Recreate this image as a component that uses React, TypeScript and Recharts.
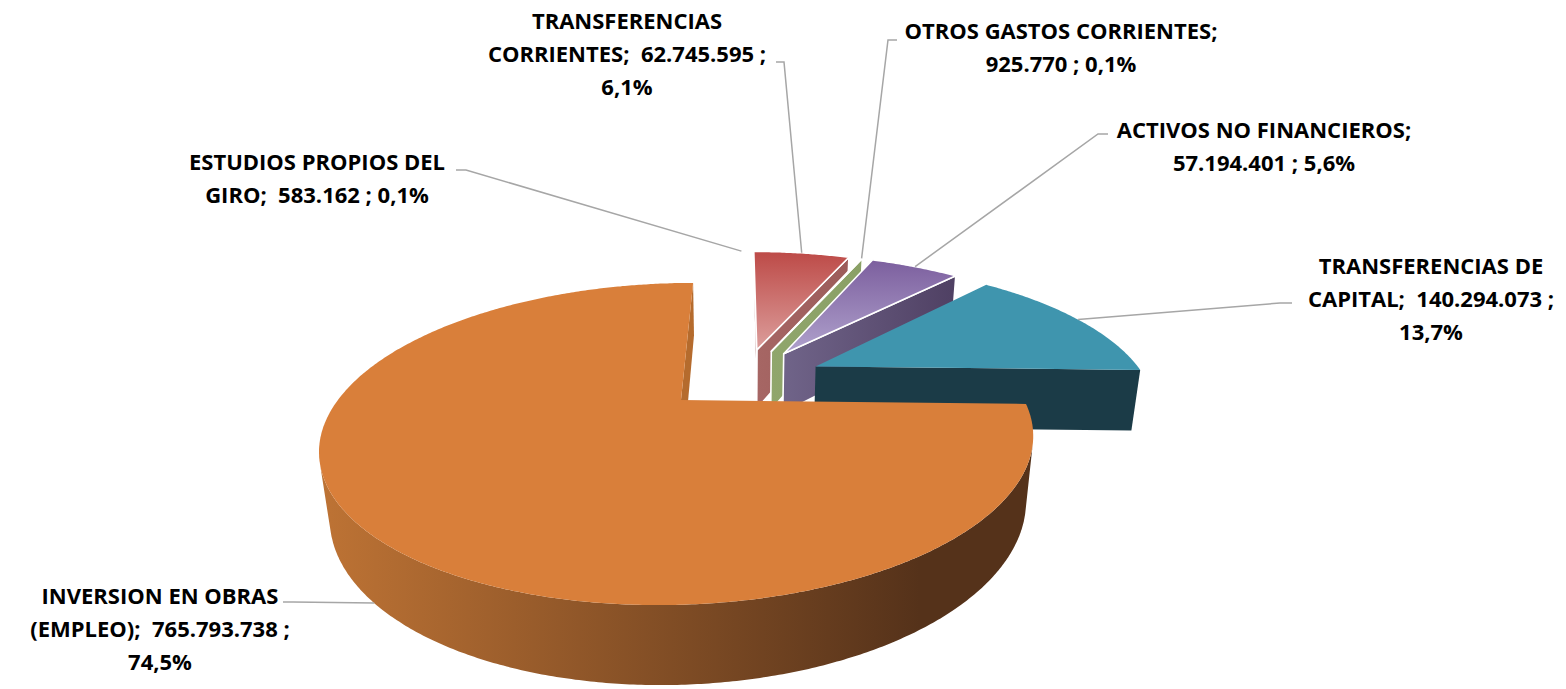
import { PieChart, Pie } from "recharts";

// data, in the order Excel stacks the slices (clockwise from 12 o'clock)
const NAMES = [
  "ESTUDIOS PROPIOS DEL GIRO",
  "TRANSFERENCIAS CORRIENTES",
  "OTROS GASTOS CORRIENTES",
  "ACTIVOS NO FINANCIEROS",
  "TRANSFERENCIAS DE CAPITAL",
  "INVERSION EN OBRAS (EMPLEO)",
];
const VALUES = [583162, 62745595, 925770, 57194401, 140294073, 765793738];

const data = NAMES.map((name, i) => ({ name, value: VALUES[i] }));
const TOTAL = VALUES.reduce((a, b) => a + b, 0);
const START = 90 + (360 * VALUES[0]) / TOTAL;

// 3d look: perspective camera tilted above the pie
const VIEW = { u: 0.262, sin: 0.4003, cos: 0.9164, wz: 0.1144, camY: -3.206, kx: 0.96 };
const THICK = 0.2;
const EXPLODE = 0.22;
const EXPLODE_X = 1.13;

type Pal = { top: string[]; cut: string[]; wall: string[]; stroke?: string };
const PALETTE: Pal[] = [
  { top: ["#4F81BD", "#4F81BD"], cut: ["#3C6494", "#3C6494"], wall: ["#3C6494", "#3C6494"], stroke: "#fff" },
  { top: ["#BD4A47", "#DC9E9C"], cut: ["#A66664", "#9C5C5A"], wall: ["#9C5C5A", "#9C5C5A"], stroke: "#fff" },
  { top: ["#76954A", "#7E9D50"], cut: ["#90A66C", "#8AA066"], wall: ["#8AA066", "#8AA066"], stroke: "#fff" },
  { top: ["#7C5F9E", "#B0A2CD"], cut: ["#706489", "#4F4063"], wall: ["#4E3E62", "#4E3E62"], stroke: "#fff" },
  { top: ["#3F95AE", "#3F95AE"], cut: ["#1B3B47", "#1B3B47"], wall: ["#1B3B47", "#1B3B47"] },
  { top: ["#D97F3A", "#D97F3A"], cut: ["#B56B2D", "#B56B2D"], wall: ["#BC7234", "#55321A"] },
];

// label layout: text centre x, first line centre y, wrap width (chars), elbow points
const LABELS = [
  { x: 317, y: 163, wrap: 21, elbow: [[456, 170], [466, 170]], z: 0 },
  { x: 627, y: 22, wrap: 25, elbow: [[776, 62], [784, 62]], z: 0 },
  { x: 1061, y: 32, wrap: 24, elbow: [[897, 40], [888, 40]], z: 0 },
  { x: 1264, y: 131, wrap: 23, elbow: [[1108, 134], [1098, 134]], z: 0 },
  { x: 1431, y: 267, wrap: 23, elbow: [[1292, 303], [1280, 303]], z: 0 },
  { x: 160, y: 597, wrap: 24, elbow: [[283, 602], [293, 602]], z: -THICK },
];
const LINE_H = 33;

const rad = (d: number) => (d * Math.PI) / 180;

function project(cx: number, cy: number, P: number, x: number, y: number, z: number) {
  const w = 1 + y * VIEW.u - z * VIEW.wz;
  return [cx + (P * VIEW.kx * x) / w, cy - (P * (y * VIEW.sin + z * VIEW.cos)) / w];
}

const fmtNum = (v: number) => v.toString().replace(/\B(?=(\d{3})+(?!\d))/g, ".");
const fmtPct = (v: number) => ((v / TOTAL) * 100).toFixed(1).replace(".", ",") + "%";

function wrapText(text: string, max: number) {
  const words = text.split(" ");
  const lines: string[] = [];
  let cur = "";
  let fresh = true;
  for (const w of words) {
    const next = fresh ? w : cur + " " + w;
    if (next.length > max && cur.trim() !== "") {
      lines.push(cur);
      cur = w;
      fresh = w === "";
    } else {
      cur = next;
      fresh = false;
    }
  }
  lines.push(cur);
  return lines;
}

const poly = (pts: number[][]) => "M" + pts.map((p) => p[0].toFixed(1) + "," + p[1].toFixed(1)).join("L") + "Z";

const apexOf = (midAngle: number) => [
  EXPLODE * EXPLODE_X * Math.cos(rad(midAngle)),
  EXPLODE * Math.sin(rad(midAngle)),
];

function Slice3D(props: any) {
  const { cx, cy, outerRadius: P, startAngle, endAngle, midAngle, payload } = props;
  const i = NAMES.indexOf(payload?.name ?? props.name);
  const pal = PALETTE[i] ?? PALETTE[0];
  const lo = Math.min(startAngle, endAngle);
  const hi = Math.max(startAngle, endAngle);
  const [ax, ay] = apexOf(midAngle);
  const rim = (deg: number, z: number) =>
    project(cx, cy, P, ax + Math.cos(rad(deg)), ay + Math.sin(rad(deg)), z);
  const apexTop = project(cx, cy, P, ax, ay, 0);
  const apexBot = project(cx, cy, P, ax, ay, -THICK);

  const steps = Math.max(2, Math.ceil((hi - lo) / 0.5));
  const angs: number[] = [];
  for (let k = 0; k <= steps; k++) angs.push(lo + ((hi - lo) * k) / steps);

  const top = [apexTop, ...angs.map((a) => rim(a, 0))];

  const seen = (nx: number, ny: number) => nx * -ax + ny * (VIEW.camY - ay) > 0;
  const cuts: number[][][] = [];
  if (seen(Math.sin(rad(lo)), -Math.cos(rad(lo))))
    cuts.push([apexTop, rim(lo, 0), rim(lo, -THICK), apexBot]);
  if (seen(-Math.sin(rad(hi)), Math.cos(rad(hi))))
    cuts.push([apexTop, rim(hi, 0), rim(hi, -THICK), apexBot]);

  const walls: number[][][] = [];
  let run: number[] = [];
  const flush = () => {
    if (run.length > 1)
      walls.push([...run.map((a) => rim(a, 0)), ...run.slice().reverse().map((a) => rim(a, -THICK))]);
    run = [];
  };
  for (const a of angs) {
    const t = rad(a);
    if (-ax * Math.cos(t) + (VIEW.camY - ay) * Math.sin(t) - 1 > 0) run.push(a);
    else flush();
  }
  flush();

  const id = "s" + i;
  const sw = pal.stroke ? 1.6 : 0;
  return (
    <g>
      <defs>
        <linearGradient id={id + "top"} x1="0" y1="0" x2="0" y2="1">
          <stop offset="0" stopColor={pal.top[0]} />
          <stop offset="1" stopColor={pal.top[1]} />
        </linearGradient>
        <linearGradient id={id + "cut"} x1="0" y1="0" x2="1" y2="0">
          <stop offset="0" stopColor={pal.cut[0]} />
          <stop offset="1" stopColor={pal.cut[1]} />
        </linearGradient>
        <linearGradient id={id + "wall"} gradientUnits="userSpaceOnUse" x1="330" y1="0" x2="920" y2="0">
          <stop offset="0" stopColor={pal.wall[0]} />
          <stop offset="1" stopColor={pal.wall[1]} />
        </linearGradient>
      </defs>
      {walls.map((w, k) => (
        <path key={"w" + k} d={poly(w)} fill={`url(#${id}wall)`} stroke={pal.stroke ?? "none"} strokeWidth={sw} strokeLinejoin="round" />
      ))}
      {cuts.map((c, k) => (
        <path key={"c" + k} d={poly(c)} fill={`url(#${id}cut)`} stroke={pal.stroke ?? "none"} strokeWidth={sw} strokeLinejoin="round" />
      ))}
      <path d={poly(top)} fill={`url(#${id}top)`} stroke={pal.stroke ?? "none"} strokeWidth={sw} strokeLinejoin="round" />
    </g>
  );
}

function renderLabel(props: any) {
  const { cx, cy, outerRadius: P, midAngle, payload } = props;
  const i = NAMES.indexOf(payload?.name ?? props.name);
  const cfg = LABELS[i];
  if (!cfg) return null;
  const [ex, ey] = apexOf(midAngle);
  const anchor = project(cx, cy, P, ex + Math.cos(rad(midAngle)), ey + Math.sin(rad(midAngle)), cfg.z);
  const text = `${NAMES[i]};  ${fmtNum(VALUES[i])} ; ${fmtPct(VALUES[i])}`;
  const lines = wrapText(text, cfg.wrap);
  const pts = [...cfg.elbow, anchor].map((p) => p[0].toFixed(1) + "," + p[1].toFixed(1)).join(" ");
  return (
    <g key={"lbl" + i}>
      <polyline points={pts} fill="none" stroke="#A6A6A6" strokeWidth={1.5} />
      <text
        textAnchor="middle"
        fontFamily="'Open Sans', Lato, sans-serif"
        fontWeight={700}
        fontSize={22}
        fill="#000"
        style={{ whiteSpace: "pre" }}
      >
        {lines.map((l, k) => (
          <tspan key={k} x={cfg.x} y={cfg.y + 7 + k * LINE_H}>
            {l}
          </tspan>
        ))}
      </text>
    </g>
  );
}

export default function App() {
  return (
    <div style={{ width: 1566, height: 689, background: "#fff" }}>
      <style>{"body{margin:0}"}</style>
      <PieChart width={1566} height={689} margin={{ top: 0, right: 0, bottom: 0, left: 0 }}>
        <Pie
          data={data}
          dataKey="value"
          nameKey="name"
          cx={742}
          cy={378}
          outerRadius={343}
          startAngle={START}
          endAngle={START - 360}
          stroke="none"
          shape={Slice3D}
          label={renderLabel}
          labelLine={false}
          isAnimationActive={false}
        />
      </PieChart>
    </div>
  );
}
